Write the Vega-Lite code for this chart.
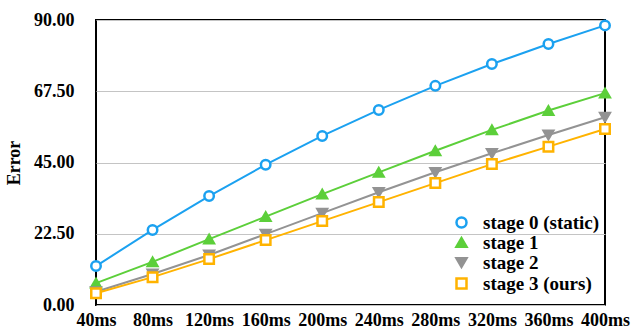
{
  "$schema": "https://vega.github.io/schema/vega-lite/v6.json",
  "autosize": {"type": "none"},
  "width": 509,
  "height": 285,
  "padding": {"left": 96, "top": 20, "right": 27, "bottom": 29},
  "background": "white",
  "config": {
    "font": "Liberation Serif",
    "view": {"stroke": "black", "strokeWidth": 2},
    "axis": {"labelFont": "Liberation Serif", "labelFontWeight": "bold", "labelFontSize": 18, "labelColor": "black", "titleFont": "Liberation Serif", "titleFontWeight": "bold", "titleFontSize": 18, "titleColor": "black", "ticks": false, "domain": false},
    "legend": {"labelFont": "serif", "labelFontWeight": "bold", "labelFontSize": 19, "labelColor": "black", "padding": 0, "rowPadding": 0, "symbolSize": 100, "symbolStrokeWidth": 2.5, "labelOffset": 12}
  },
  "data": {"values": [
    {"t": "40ms", "stage": "stage 0 (static)", "err": 12.3},
    {"t": "80ms", "stage": "stage 0 (static)", "err": 23.7},
    {"t": "120ms", "stage": "stage 0 (static)", "err": 34.4},
    {"t": "160ms", "stage": "stage 0 (static)", "err": 44.3},
    {"t": "200ms", "stage": "stage 0 (static)", "err": 53.4},
    {"t": "240ms", "stage": "stage 0 (static)", "err": 61.6},
    {"t": "280ms", "stage": "stage 0 (static)", "err": 69.2},
    {"t": "320ms", "stage": "stage 0 (static)", "err": 76.1},
    {"t": "360ms", "stage": "stage 0 (static)", "err": 82.4},
    {"t": "400ms", "stage": "stage 0 (static)", "err": 88.3},
    {"t": "40ms", "stage": "stage 1", "err": 6.9},
    {"t": "80ms", "stage": "stage 1", "err": 13.6},
    {"t": "120ms", "stage": "stage 1", "err": 20.8},
    {"t": "160ms", "stage": "stage 1", "err": 27.9},
    {"t": "200ms", "stage": "stage 1", "err": 35.0},
    {"t": "240ms", "stage": "stage 1", "err": 41.9},
    {"t": "280ms", "stage": "stage 1", "err": 48.7},
    {"t": "320ms", "stage": "stage 1", "err": 55.3},
    {"t": "360ms", "stage": "stage 1", "err": 61.4},
    {"t": "400ms", "stage": "stage 1", "err": 66.9},
    {"t": "40ms", "stage": "stage 2", "err": 4.2},
    {"t": "80ms", "stage": "stage 2", "err": 9.8},
    {"t": "120ms", "stage": "stage 2", "err": 15.8},
    {"t": "160ms", "stage": "stage 2", "err": 22.4},
    {"t": "200ms", "stage": "stage 2", "err": 29.0},
    {"t": "240ms", "stage": "stage 2", "err": 35.6},
    {"t": "280ms", "stage": "stage 2", "err": 41.9},
    {"t": "320ms", "stage": "stage 2", "err": 47.9},
    {"t": "360ms", "stage": "stage 2", "err": 53.7},
    {"t": "400ms", "stage": "stage 2", "err": 59.3},
    {"t": "40ms", "stage": "stage 3 (ours)", "err": 3.7},
    {"t": "80ms", "stage": "stage 3 (ours)", "err": 8.8},
    {"t": "120ms", "stage": "stage 3 (ours)", "err": 14.5},
    {"t": "160ms", "stage": "stage 3 (ours)", "err": 20.5},
    {"t": "200ms", "stage": "stage 3 (ours)", "err": 26.5},
    {"t": "240ms", "stage": "stage 3 (ours)", "err": 32.5},
    {"t": "280ms", "stage": "stage 3 (ours)", "err": 38.5},
    {"t": "320ms", "stage": "stage 3 (ours)", "err": 44.5},
    {"t": "360ms", "stage": "stage 3 (ours)", "err": 50.0},
    {"t": "400ms", "stage": "stage 3 (ours)", "err": 55.6}
  ]},
  "encoding": {
    "x": {"field": "t", "type": "ordinal", "sort": null, "scale": {"type": "point", "padding": 0},
          "axis": {"title": null, "labelAngle": 0, "labelPadding": 6, "grid": false}},
    "y": {"field": "err", "type": "quantitative", "scale": {"domain": [0, 90], "nice": false},
          "axis": {"title": "Error", "values": [0, 22.5, 45, 67.5, 90], "format": ".2f", "labelPadding": 22, "titlePadding": 10, "grid": true, "gridColor": "#c4c4c4", "gridWidth": 1}},
    "stroke": {"field": "stage", "type": "nominal", "title": null,
               "scale": {"domain": ["stage 0 (static)", "stage 1", "stage 2", "stage 3 (ours)"], "range": ["#1ba1f0", "#5ccf3a", "#939393", "#ffb300"]},
               "legend": {"orient": "none", "legendX": 356, "legendY": 193, "labelFont": "serif", "labelFontWeight": "bold", "labelFontSize": 19, "rowPadding": 0, "labelOffset": 12}}
  },
  "layer": [
    {
      "mark": {"type": "line", "strokeWidth": 2}
    },
    {
      "mark": {"type": "point", "size": 90, "strokeWidth": 2.5, "opacity": 1, "filled": false},
      "encoding": {
        "fill": {"field": "stage", "type": "nominal", "title": null,
                 "scale": {"domain": ["stage 0 (static)", "stage 1", "stage 2", "stage 3 (ours)"], "range": ["white", "#5ccf3a", "#939393", "white"]},
                 "legend": {"orient": "none", "legendX": 356, "legendY": 193, "labelFont": "serif", "labelFontWeight": "bold", "labelFontSize": 19, "rowPadding": 0, "labelOffset": 12}},
        "shape": {"field": "stage", "type": "nominal", "title": null,
                  "scale": {"domain": ["stage 0 (static)", "stage 1", "stage 2", "stage 3 (ours)"], "range": ["circle", "triangle-up", "triangle-down", "square"]},
                  "legend": {"orient": "none", "legendX": 356, "legendY": 193, "labelFont": "serif", "labelFontWeight": "bold", "labelFontSize": 19, "rowPadding": 0, "labelOffset": 12}}
      }
    }
  ]
}
